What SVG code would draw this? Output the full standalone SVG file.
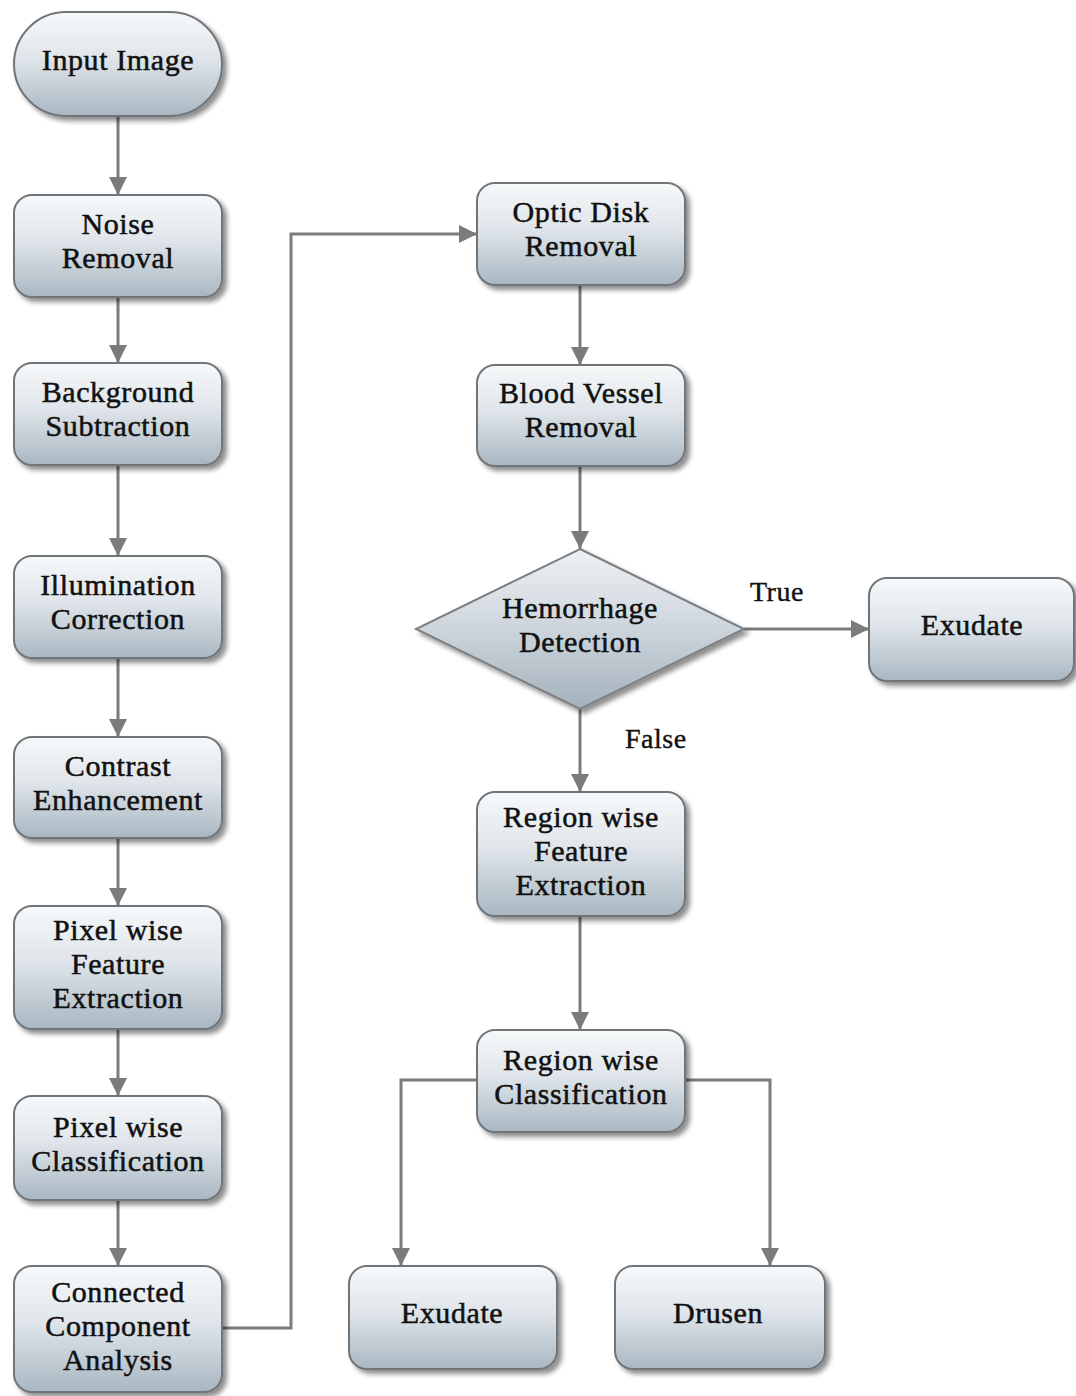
<svg xmlns="http://www.w3.org/2000/svg" width="1076" height="1396" viewBox="0 0 1076 1396">
  <defs>
    <linearGradient id="boxFill" x1="0" y1="0" x2="0" y2="1">
      <stop offset="0" stop-color="#f7f9fa"/>
      <stop offset="0.45" stop-color="#dfe5ea"/>
      <stop offset="1" stop-color="#a9b7c2"/>
    </linearGradient>
    <linearGradient id="diamondFill" x1="0" y1="0" x2="0" y2="1">
      <stop offset="0" stop-color="#eef1f4"/>
      <stop offset="0.5" stop-color="#cdd5dc"/>
      <stop offset="1" stop-color="#a4b1bc"/>
    </linearGradient>
    <filter id="shadow" x="-10%" y="-10%" width="125%" height="130%">
      <feGaussianBlur in="SourceAlpha" stdDeviation="2.5"/>
      <feOffset dx="4" dy="4" result="blur"/>
      <feComponentTransfer><feFuncA type="linear" slope="0.45"/></feComponentTransfer>
      <feMerge><feMergeNode/><feMergeNode in="SourceGraphic"/></feMerge>
    </filter>
    <marker id="arrow" viewBox="0 0 10 10" refX="10" refY="5" markerWidth="6" markerHeight="6" orient="auto" markerUnits="strokeWidth">
      <path d="M0,0 L10,5 L0,10 Z" fill="#7b7b7b"/>
    </marker>
  </defs>
  <style>
    .box { fill: url(#boxFill); stroke: #70757a; stroke-width: 2; filter: url(#shadow); }
    .dia { fill: url(#diamondFill); stroke: #7a7f84; stroke-width: 2; filter: url(#shadow); }
    .lbl { font-family: "Liberation Serif", "Times New Roman", serif; font-size: 30px; fill: #111; stroke: #111; stroke-width: 0.5; letter-spacing: 0.6px; text-anchor: middle; }
    .cond { font-family: "Liberation Serif", "Times New Roman", serif; font-size: 28px; fill: #111; stroke: #111; stroke-width: 0.4; letter-spacing: 0.5px; }
    .conn { fill: none; stroke: #7b7b7b; stroke-width: 3; marker-end: url(#arrow); }
  </style>
  <rect width="1076" height="1396" fill="#ffffff"/>

  <!-- connectors -->
  <g id="connectors">
    <path class="conn" d="M118,116 V195"/>
    <path class="conn" d="M118,297 V363"/>
    <path class="conn" d="M118,465 V556"/>
    <path class="conn" d="M118,658 V737"/>
    <path class="conn" d="M118,838 V906"/>
    <path class="conn" d="M118,1029 V1096"/>
    <path class="conn" d="M118,1200 V1266"/>
    <path class="conn" d="M222,1328 H291 V234 H477"/>
    <path class="conn" d="M580,285 V365"/>
    <path class="conn" d="M580,466 V549"/>
    <path class="conn" d="M744,629 H869"/>
    <path class="conn" d="M580,709 V792"/>
    <path class="conn" d="M580,916 V1030"/>
    <path class="conn" d="M477,1080 H401 V1266"/>
    <path class="conn" d="M685,1080 H770 V1266"/>
    <text class="cond" x="750" y="601">True</text>
    <text class="cond" x="625" y="748">False</text>
  </g>

  <!-- left column -->
  <g id="input-image">
    <rect class="box" x="14" y="12" width="208" height="104" rx="52"/>
    <text class="lbl" x="118" y="70">Input Image</text>
  </g>
  <g id="noise-removal">
    <rect class="box" x="14" y="195" width="208" height="102" rx="18"/>
    <text class="lbl" x="118" y="234">Noise</text>
    <text class="lbl" x="118" y="268">Removal</text>
  </g>
  <g id="background-subtraction">
    <rect class="box" x="14" y="363" width="208" height="102" rx="18"/>
    <text class="lbl" x="118" y="402">Background</text>
    <text class="lbl" x="118" y="436">Subtraction</text>
  </g>
  <g id="illumination-correction">
    <rect class="box" x="14" y="556" width="208" height="102" rx="18"/>
    <text class="lbl" x="118" y="595">Illumination</text>
    <text class="lbl" x="118" y="629">Correction</text>
  </g>
  <g id="contrast-enhancement">
    <rect class="box" x="14" y="737" width="208" height="101" rx="18"/>
    <text class="lbl" x="118" y="776">Contrast</text>
    <text class="lbl" x="118" y="810">Enhancement</text>
  </g>
  <g id="pixel-feature-extraction">
    <rect class="box" x="14" y="906" width="208" height="123" rx="18"/>
    <text class="lbl" x="118" y="940">Pixel wise</text>
    <text class="lbl" x="118" y="974">Feature</text>
    <text class="lbl" x="118" y="1008">Extraction</text>
  </g>
  <g id="pixel-classification">
    <rect class="box" x="14" y="1096" width="208" height="104" rx="18"/>
    <text class="lbl" x="118" y="1137">Pixel wise</text>
    <text class="lbl" x="118" y="1171">Classification</text>
  </g>
  <g id="connected-component-analysis">
    <rect class="box" x="14" y="1266" width="208" height="126" rx="18"/>
    <text class="lbl" x="118" y="1302">Connected</text>
    <text class="lbl" x="118" y="1336">Component</text>
    <text class="lbl" x="118" y="1370">Analysis</text>
  </g>

  <!-- right column -->
  <g id="optic-disk-removal">
    <rect class="box" x="477" y="183" width="208" height="102" rx="18"/>
    <text class="lbl" x="581" y="222">Optic Disk</text>
    <text class="lbl" x="581" y="256">Removal</text>
  </g>
  <g id="blood-vessel-removal">
    <rect class="box" x="477" y="365" width="208" height="101" rx="18"/>
    <text class="lbl" x="581" y="403">Blood Vessel</text>
    <text class="lbl" x="581" y="437">Removal</text>
  </g>
  <g id="hemorrhage-detection">
    <path class="dia" d="M580,549 L744,629 L580,709 L416,629 Z"/>
    <text class="lbl" x="580" y="618">Hemorrhage</text>
    <text class="lbl" x="580" y="652">Detection</text>
  </g>
  <g id="exudate-true">
    <rect class="box" x="869" y="578" width="205" height="103" rx="18"/>
    <text class="lbl" x="972" y="635">Exudate</text>
  </g>
  <g id="region-feature-extraction">
    <rect class="box" x="477" y="792" width="208" height="124" rx="18"/>
    <text class="lbl" x="581" y="827">Region wise</text>
    <text class="lbl" x="581" y="861">Feature</text>
    <text class="lbl" x="581" y="895">Extraction</text>
  </g>
  <g id="region-classification">
    <rect class="box" x="477" y="1030" width="208" height="102" rx="18"/>
    <text class="lbl" x="581" y="1070">Region wise</text>
    <text class="lbl" x="581" y="1104">Classification</text>
  </g>
  <g id="exudate-region">
    <rect class="box" x="349" y="1266" width="208" height="103" rx="18"/>
    <text class="lbl" x="452" y="1323">Exudate</text>
  </g>
  <g id="drusen">
    <rect class="box" x="615" y="1266" width="210" height="103" rx="18"/>
    <text class="lbl" x="718" y="1323">Drusen</text>
  </g>
</svg>
